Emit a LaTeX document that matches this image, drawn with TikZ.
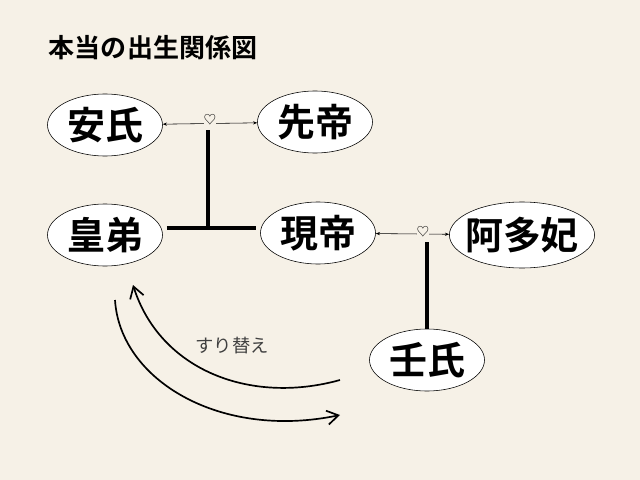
\documentclass[tikz,border=0pt]{standalone}
\usepackage{fontspec}
\setmainfont{Noto Sans CJK JP}
\newfontfamily\jpbold{Noto Sans CJK JP Bold}
\usetikzlibrary{arrows.meta,shapes.geometric,calc}
\definecolor{paper}{HTML}{F6F1E7}
\tikzset{
  person/.style={ellipse, draw, fill=white, minimum width=115*0.025cm, minimum height=62*0.025cm, inner sep=0pt, font=\jpbold\fontsize{27}{27}\selectfont},
  bond/.style={line width=3pt},
  couple/.style={thin, {Stealth[length=3pt]}-{Stealth[length=3pt]}},
  swap/.style={line width=1.2pt, -{Straight Barb[length=8pt,width=10pt]}}
}
\begin{document}
\begin{tikzpicture}[x=0.025cm, y=-0.025cm]
  % Hintergrund
  \fill[paper] (0,0) rectangle (640,480);
  \useasboundingbox (0,0) rectangle (640,480);

  % Titel
  \node[anchor=west, font=\jpbold\fontsize{18.5}{18.5}\selectfont] (title) at (44,48) {本当の出生関係図};

  % Personen
  \node[person] (an) at (105,125) {安氏};
  \node[person] (sen) at (315,122) {先帝};
  \node[person] (kotei) at (105,235) {皇弟};
  \node[person] (gen) at (318,233) {現帝};
  \node[person, minimum width=105*0.025cm, minimum height=66*0.025cm, inner sep=-4pt] (ata) at (522,235) {阿多妃};
  \node[person] (jin) at (427,360) {壬氏};

  % Ehen
  \draw[couple] (an) -- (sen);
  \draw[couple] (gen) -- (ata);
  \node[font=\fontsize{9}{9}\selectfont, inner sep=0pt, fill=paper] (h1) at (210,120) {♡};
  \node[font=\fontsize{9}{9}\selectfont, inner sep=0pt, fill=paper] (h2) at (423,232) {♡};

  % Kinder
  \coordinate (k1) at (208,228);
  \draw[bond] (208,130) -- (k1);
  \draw[bond] ($(kotei.east)+(4,-7)$) -- ($(gen.west)+(-4,-5)$);
  \draw[bond] (427,242) -- (jin.north);

  % Vertauschung
  \draw[swap] (340,380) .. controls (250,405) and (160,370) .. (133,285);
  \draw[swap] (115,300) .. controls (120,380) and (220,440) .. (340,415);
  \node[font=\fontsize{13}{13}\selectfont, text=black!75] (sw) at (232,346) {すり替え};
\end{tikzpicture}
\end{document}
